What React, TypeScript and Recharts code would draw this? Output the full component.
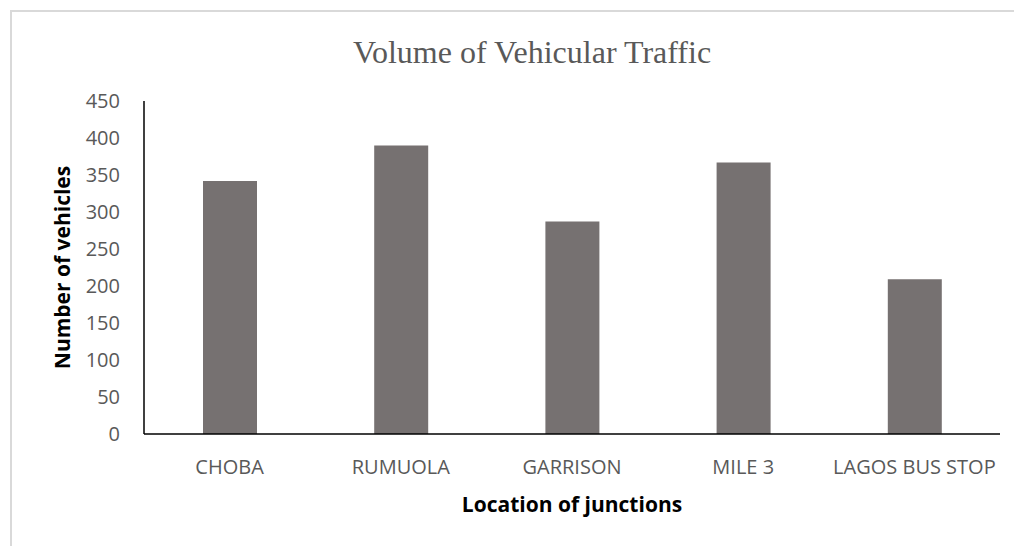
import React from 'react';
import { BarChart, Bar, XAxis, YAxis } from 'recharts';

const junctions = ['CHOBA', 'RUMUOLA', 'GARRISON', 'MILE 3', 'LAGOS BUS STOP'];
const vehicles = [342, 390, 287, 367, 209];
const yTicks = [0, 50, 100, 150, 200, 250, 300, 350, 400, 450];

const data = junctions.map((name, i) => ({ name, vehicles: vehicles[i] }));

const labelFont = "'Open Sans', 'Noto Sans', sans-serif";

function YTitle(props: any) {
  const { viewBox } = props;
  const cx = 62;
  const cy = viewBox.y + viewBox.height / 2;
  return (
    <text
      x={cx}
      y={cy}
      transform={`rotate(-90, ${cx}, ${cy})`}
      textAnchor="middle"
      dominantBaseline="central"
      fill="#000"
      fontSize={21}
      fontWeight="bold"
      fontFamily={labelFont}
    >
      Number of vehicles
    </text>
  );
}

export default function App() {
  return (
    <div style={{ position: 'absolute', left: 0, top: 0, width: 1014, height: 546, background: '#fff' }}>
      <div
        style={{
          position: 'absolute',
          left: 10,
          top: 10,
          width: 1014,
          height: 546,
          borderLeft: '2px solid #d9d9d9',
          borderTop: '2px solid #d9d9d9',
          boxSizing: 'border-box',
        }}
      />
      <div
        style={{
          position: 'absolute',
          left: 25,
          top: 33,
          width: 1014,
          textAlign: 'center',
          fontFamily: "'Liberation Serif', 'DejaVu Serif', serif",
          fontSize: 32,
          lineHeight: '38px',
          color: '#595959',
        }}
      >
        Volume of Vehicular Traffic
      </div>
      <BarChart
        width={1014}
        height={546}
        data={data}
        margin={{ top: 101, right: 14, bottom: 0, left: 10 }}
        style={{ position: 'absolute', left: 0, top: 0 }}
      >
        <XAxis
          dataKey="name"
          axisLine={{ stroke: '#000', strokeWidth: 1.5 }}
          tickLine={false}
          tick={{ fill: '#595959', fontSize: 20, fontFamily: labelFont }}
          tickMargin={20}
          interval={0}
          height={112}
          label={{
            value: 'Location of junctions',
            position: 'insideTop',
            offset: 63,
            fill: '#000',
            fontSize: 21,
            fontWeight: 'bold',
            fontFamily: labelFont,
          }}
        />
        <YAxis
          domain={[0, 450]}
          ticks={yTicks}
          interval={0}
          width={134}
          axisLine={{ stroke: '#000', strokeWidth: 1.5 }}
          tickLine={false}
          tick={{ fill: '#595959', fontSize: 20, fontFamily: labelFont }}
          tickMargin={18}
          label={<YTitle />}
        />
        <Bar dataKey="vehicles" fill="#767171" barSize={54} isAnimationActive={false} />
      </BarChart>
    </div>
  );
}
